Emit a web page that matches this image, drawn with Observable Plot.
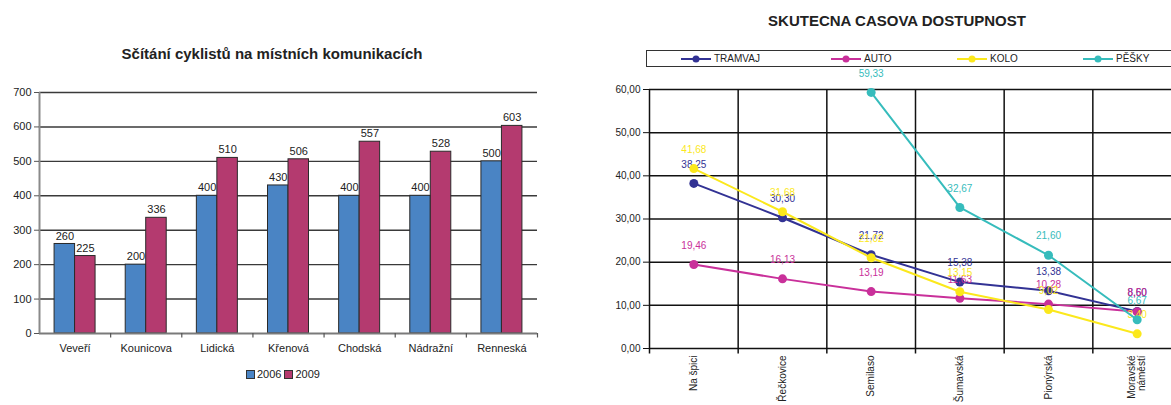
<!DOCTYPE html>
<html>
<head>
<meta charset="utf-8">
<script src="https://cdn.jsdelivr.net/npm/d3@7"></script>
<script src="https://cdn.jsdelivr.net/npm/@observablehq/plot@0.6"></script>
<style>
  html, body { margin: 0; padding: 0; background: #fff; overflow: hidden; }
  #wrap { position: relative; width: 1171px; height: 405px; overflow: hidden;
          font-family: "Liberation Sans", Arial, sans-serif; color: #222; }
  .abs { position: absolute; }
  .title { font-weight: bold; font-size: 15px; white-space: nowrap; transform: translateX(-50%); }
  .leg { display: flex; align-items: center; font-size: 11px; white-space: nowrap; }
  .sw { display: inline-block; width: 7px; height: 7px; border: 1px solid #333; margin-right: 2px; }
  .lbox { border: 1.5px solid #333; border-right: none; height: 15px; background: #fff; font-size: 10px; overflow: hidden; }
  .li { position: absolute; top: 0; height: 15px; display: flex; align-items: center; white-space: nowrap; }
</style>
</head>
<body>
<div id="wrap"></div>
<script>
// Cyclist counts on local roads
const streets = ["Veveří", "Kounicova", "Lidická", "Křenová", "Chodská", "Nádražní", "Renneská"];
const count2006 = [260, 200, 400, 430, 400, 400, 500];
const count2009 = [225, 336, 510, 506, 557, 528, 603];
const countTicks = [0, 100, 200, 300, 400, 500, 600, 700];
const years = ["2006", "2009"];

// Real travel time by mode
const stops = ["Na špici", "Řečkovice", "Semilaso", "Šumavská", "Pionýrská", "Moravské\nnáměstí"];
const modes = ["TRAMVAJ", "AUTO", "KOLO", "PĚŠKY"];
const tramvaj = [38.25, 30.30, 21.72, 15.38, 13.38, 8.60];
const auto = [19.46, 16.13, 13.19, 11.63, 10.28, 8.50];
const kolo = [41.68, 31.68, 21.02, 13.15, 9.02, 3.40];
const pesky = [null, null, 59.33, 32.67, 21.60, 6.67];
const timeTicks = [0, 10, 20, 30, 40, 50, 60];

const wrap = document.getElementById("wrap");
const font = "Liberation Sans, Arial, sans-serif";

function place(node, left, top) {
  node.classList.add("abs");
  node.style.left = left + "px";
  node.style.top = top + "px";
  wrap.appendChild(node);
  return node;
}
function div(html, cls, left, top) {
  const d = document.createElement("div");
  d.className = cls;
  d.innerHTML = html;
  return place(d, left, top);
}

/* ---------- left: grouped bars ---------- */
const barColors = {"2006": "#4a84c4", "2009": "#b43a6f"};
const rows2006 = streets.map((s, i) => ({street: s, value: count2006[i]}));
const rows2009 = streets.map((s, i) => ({street: s, value: count2009[i]}));

const L = {width: 560, height: 283, ml: 39, mr: 23, mt: 12, mb: 30};
const lStep = (L.width - L.ml - L.mr) / streets.length;
const barW = 20.5;
const barInset = (lStep - barW) / 2;

const left = Plot.plot({
  width: L.width, height: L.height,
  marginLeft: L.ml, marginRight: L.mr, marginTop: L.mt, marginBottom: L.mb,
  style: {fontFamily: font, fontSize: "11px", color: "#222", background: "transparent"},
  x: {type: "band", domain: streets, padding: 0, round: false, axis: null, label: null},
  y: {domain: [0, 700], axis: null, label: null},
  marks: [
    Plot.ruleY(countTicks.slice(1), {stroke: "#3a3a3a", strokeWidth: 1.4}),
    Plot.barY(rows2006, {x: "street", y: "value", fill: barColors["2006"], stroke: "#2a2a2a", strokeWidth: 1,
      insetLeft: barInset, insetRight: barInset, dx: -barW / 2}),
    Plot.barY(rows2009, {x: "street", y: "value", fill: barColors["2009"], stroke: "#2a2a2a", strokeWidth: 1,
      insetLeft: barInset, insetRight: barInset, dx: barW / 2}),
    Plot.text(rows2006, {x: "street", y: "value", text: d => String(d.value), dy: -8, dx: -barW / 2, fill: "#222"}),
    Plot.text(rows2009, {x: "street", y: "value", text: d => String(d.value), dy: -8, dx: barW / 2, fill: "#222"}),
    // axis lines and category separators
    Plot.ruleY([0], {stroke: "#7a7a7a", strokeWidth: 2}),
    Plot.ruleX([streets[0]], {x: d => d, y1: 0, y2: 700, dx: -lStep / 2, stroke: "#8a8a8a", strokeWidth: 2}),
    Plot.ruleX(streets, {x: d => d, y1: 0, y2: -13, dx: lStep / 2, stroke: "#555", strokeWidth: 1.2}),
    Plot.axisY({ticks: countTicks, tickSize: 5, tickPadding: 3, tickFormat: d => String(d), stroke: "#555", label: null}),
    Plot.axisX({tickSize: 0, tickPadding: 11, label: null})
  ]
});
place(left, 0, 80);

div("Sčítání cyklistů na místních komunikacích", "title", 272, 45);
div(`<span class="sw" style="background:${barColors["2006"]}"></span>${years[0]}` +
    `<span class="sw" style="background:${barColors["2009"]};margin-left:3px"></span>${years[1]}`,
    "leg", 246, 368);

/* ---------- right: travel-time lines ---------- */
const modeColors = {"TRAMVAJ": "#323294", "AUTO": "#c9309a", "KOLO": "#fbe81c", "PĚŠKY": "#36bcbc"};
const seriesValues = {"TRAMVAJ": tramvaj, "AUTO": auto, "KOLO": kolo, "PĚŠKY": pesky};
const comma = v => v.toFixed(2).replace(".", ",");

// the plot area runs on past the right edge of the page
const R = {width: 581, height: 348, ml: 59, mt: 29, mb: 60, plotRight: 591};
const rStep = (R.plotRight - R.ml) / stops.length;

const seriesMarks = modes.flatMap(m => {
  const rows = stops.map((s, i) => ({stop: s, value: seriesValues[m][i]})).filter(d => d.value != null);
  const c = modeColors[m];
  return [
    Plot.line(rows, {x: "stop", y: "value", stroke: c, strokeWidth: 2}),
    Plot.dot(rows, {x: "stop", y: "value", r: 4.5, fill: c, stroke: "none"}),
    Plot.text(rows, {x: "stop", y: "value", text: d => comma(d.value), dy: -19, fill: c, fontSize: 10})
  ];
});

const right = Plot.plot({
  width: R.width, height: R.height,
  marginLeft: R.ml, marginRight: 0, marginTop: R.mt, marginBottom: R.mb,
  style: {fontFamily: font, fontSize: "10px", color: "#222", background: "transparent"},
  x: {type: "band", domain: stops, padding: 0, round: false, range: [R.ml, R.plotRight], axis: null, label: null},
  y: {domain: [0, 60], axis: null, label: null},
  marks: [
    Plot.ruleY(timeTicks, {stroke: "#111", strokeWidth: 1.5}),
    Plot.ruleX(stops, {x: d => d, y1: -1.3, y2: 60, dx: -rStep / 2, stroke: "#111", strokeWidth: 1.5}),
    Plot.axisY({ticks: timeTicks, tickSize: 6, tickPadding: 3, tickFormat: comma, stroke: "#111", label: null}),
    Plot.axisX({tickSize: 0, tickPadding: 7, tickRotate: -90, label: null}),
    ...seriesMarks
  ]
});
place(right, 590, 60);

div("SKUTECNA CASOVA DOSTUPNOST", "title", 897, 12);

const box = div("", "lbox", 646, 50);
box.style.width = (1171 - 646 - 1.5) + "px";
const legX = {"TRAMVAJ": 34, "AUTO": 184, "KOLO": 310, "PĚŠKY": 436};
for (const m of modes) {
  const c = modeColors[m];
  const item = document.createElement("div");
  item.className = "li";
  item.style.left = legX[m] + "px";
  item.innerHTML = `<svg width="30" height="10" style="margin-right:3px"><line x1="0" y1="5" x2="30" y2="5" stroke="${c}" stroke-width="2"/><circle cx="15" cy="5" r="3.5" fill="${c}"/></svg>${m}`;
  box.appendChild(item);
}
</script>
</body>
</html>
